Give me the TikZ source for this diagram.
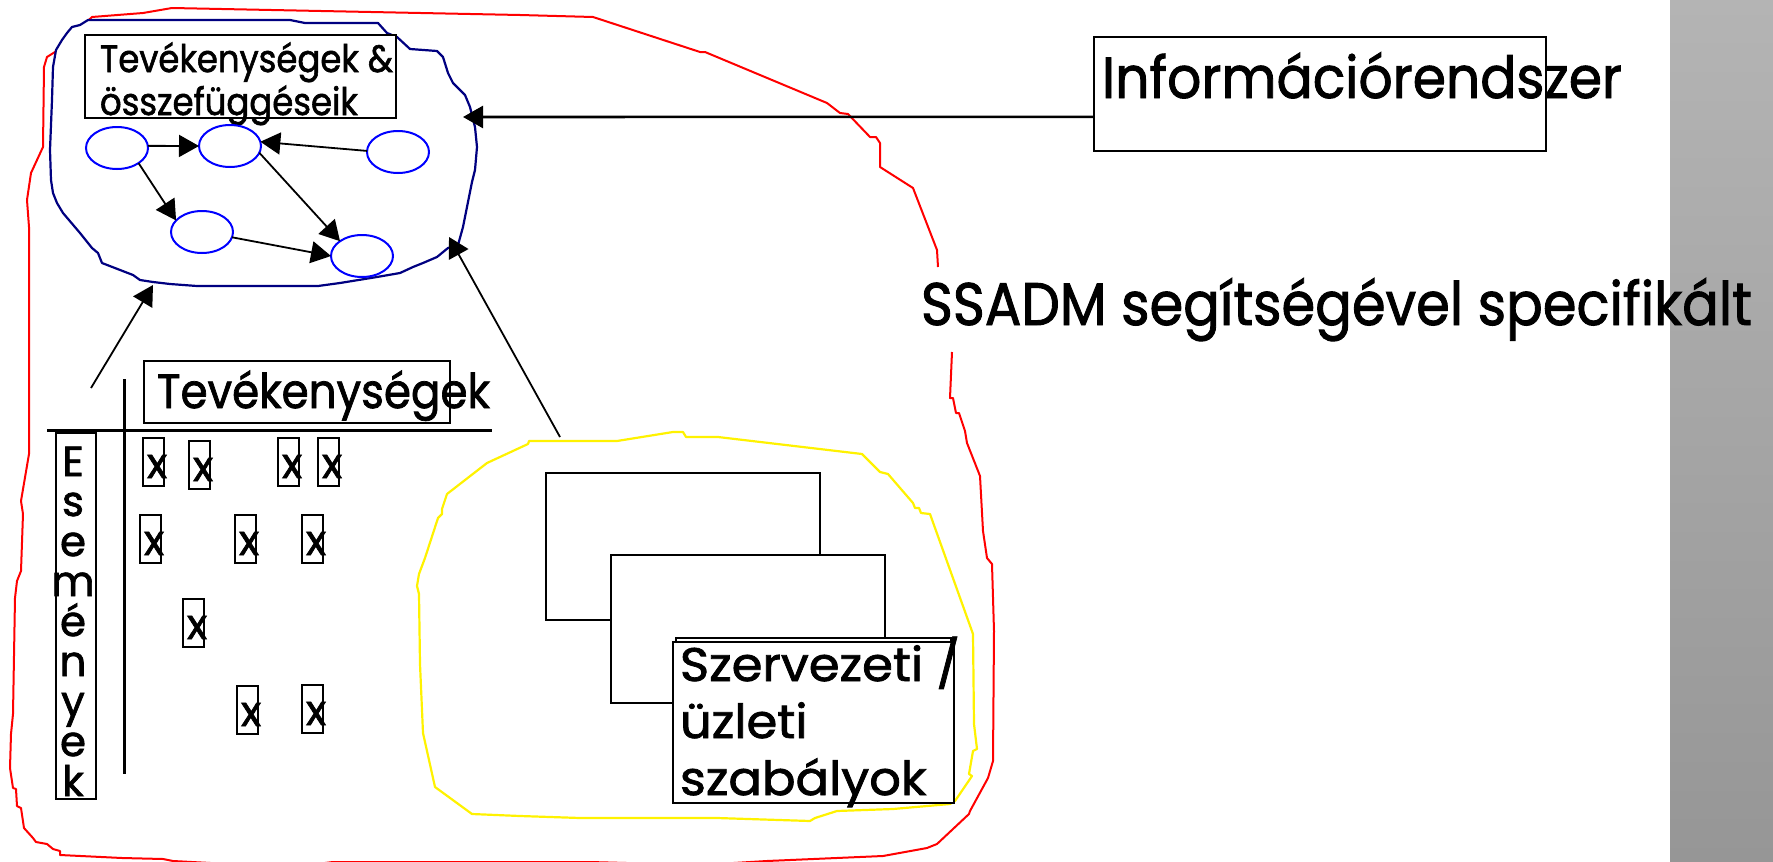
\documentclass[tikz,border=0pt]{standalone}
\usepackage{graphicx}
\usepackage{fontspec}
\setmainfont{Poppins}[FakeBold=1.6]
\usetikzlibrary{arrows.meta,shapes.geometric,fit,calc}
\definecolor{navyb}{RGB}{0,0,128}
\definecolor{grtop}{RGB}{180,180,180}
\definecolor{grbot}{RGB}{150,150,150}
\newcommand\fitw[2]{\resizebox{#1}{\height}{#2}}
\newcommand\vlinesL[2]{\vtop{\baselineskip=#1\lineskiplimit=-1000pt\lineskip=0pt\halign{##\hfil\cr#2\crcr}}}
\newcommand\vlinesC[2]{\vtop{\baselineskip=#1\lineskiplimit=-1000pt\lineskip=0pt\halign{\hfil##\hfil\cr#2\crcr}}}
\begin{document}
\begin{tikzpicture}[x=0.5pt,y=-0.5pt,
  every node/.style={inner sep=0pt, outer sep=0pt},
  redl/.style={draw=red, line width=1pt, line join=round},
  blobl/.style={draw=navyb, line width=1.1pt, fill=white, line join=round},
  yel/.style={draw=yellow, line width=1.1pt, line join=round},
  ell/.style={ellipse, draw=blue, line width=1pt, fill=white, minimum width=31pt, minimum height=21pt},
  box/.style={draw=black, line width=0.9pt, fill=white},
  arr/.style={draw=black, line width=0.9pt, -{Triangle[length=10pt,width=11pt]}},
  tline/.style={draw=black, line width=1.5pt}]
\useasboundingbox (0,0) rectangle (1773,862);
\clip (0,0) rectangle (1773,862);
% gray bar
\shade[top color=grtop, bottom color=grbot] (1670,0) rectangle (1773,862);
% red outline (open at the SSADM label)
\draw[redl] (952,352) -- (950,398) -- (953,398) -- (956,413) -- (959,413) -- (965,431) -- (967,443) -- (980,476) -- (983,531) -- (987,558) -- (992,564) -- (994,631) -- (993,761) -- (988,778) -- (970,811) -- (969,814) -- (937,844) -- (927,848) -- (883,856) -- (767,861) -- (700,865) -- (590,862) -- (500,862) -- (333,862) -- (300,866) -- (267,866) -- (173,861) -- (163,859) -- (122,858) -- (60,855) -- (60,851) -- (53,849) -- (47,844) -- (36,842) -- (33,838) -- (24,828) -- (21,808) -- (17,806) -- (16,789) -- (13,788) -- (10,768) -- (11,734) -- (13,714) -- (15,598) -- (17,581) -- (21,571) -- (23,514) -- (21,501) -- (29,454) -- (29,431) -- (29,227) -- (27,200) -- (31,173) -- (43,147) -- (44,67) -- (47,57) -- (55,52) -- (92,17) -- (143,13) -- (172,8) -- (520,15) -- (593,17) -- (700,52) -- (705,52) -- (827,103) -- (840,113) -- (848,114) -- (870,137) -- (876,137) -- (880,143) -- (880,167) -- (913,188) -- (937,250) -- (938,267);
% blue blob
\draw[blobl] (88,20) -- (290,20) -- (305,23) -- (378,23) -- (387,33) -- (397,37) -- (410,49) -- (437,51) -- (443,57) -- (448,73) -- (453,83) -- (465,95) -- (470,107) -- (475,127) -- (477,147) -- (475,170) -- (472,182) -- (467,207) -- (463,227) -- (458,245) -- (448,248) -- (437,257) -- (423,263) -- (413,267) -- (400,273) -- (377,277) -- (340,283) -- (318,286) -- (197,286) -- (170,284) -- (153,282) -- (140,280) -- (133,275) -- (102,263) -- (98,253) -- (92,248) -- (80,233) -- (63,213) -- (57,203) -- (53,193) -- (51,180) -- (50,150) -- (52,100) -- (53,67) -- (56,50) -- (62,40) -- (67,33) -- (72,27) -- (80,25) -- cycle;
\coordinate (blobE) at (463,117);
\coordinate (blobSW) at (153,285);
\coordinate (blobSE) at (449,237);
\coordinate (tabA) at (91,388);
\coordinate (yelN) at (560,437);
% title box in blob
\node[box, fit={(85,35) (396,118)}] (tbox) {};
\node[anchor=base west, font=\fontsize{19}{21.5}\selectfont] (tboxtxt) at (100,72) {\fitw{146.5pt}{\vlinesL{21.5pt}{Tevékenységek \&\cr összefüggéseik}}};
% ellipses
\node[ell] (e1) at (117,148) {};
\node[ell] (e2) at (230,146) {};
\node[ell] (e3) at (398,152) {};
\node[ell] (e4) at (202,232) {};
\node[ell] (e5) at (362,256) {};
\draw[arr] (e1.4) -- (e2.180);
\draw[arr] (e3.178) -- (e2.8);
\draw[arr] (e1.-35) -- (e4.156);
\draw[arr] (e2.-13) -- (e5.146);
\draw[arr] (e4.-10) -- (e5.180);
% table
\draw[tline] (47,430) -- (492,430);
\draw[tline] (124,379) -- (124,774);
\node[box, fit={(144,361) (450,423)}] (thead) {};
\node[anchor=base west, font=\fontsize{24}{29}\selectfont] (theadtxt) at (157,408) {\fitw{166.5pt}{Tevékenységek}};
\node[box, fit={(56,433) (96,799)}] (evbox) {};
\node[anchor=base, font=\fontsize{21}{20}\selectfont] (evtxt) at (73,476) {\vlinesC{20pt}{E\cr s\cr e\cr m\cr é\cr n\cr y\cr e\cr k}};
\foreach \i/\bx/\by in {1/143/438, 2/189/441, 3/278/438, 4/318/438, 5/140/515, 6/235/515, 7/302/515, 8/183/599, 9/237/686, 10/302/685} {
  \node[box, fit={(\bx,\by) (\bx+21,\by+48)}] (xb\i) {};
  \node[anchor=base west, font=\fontsize{21}{22}\selectfont] (xm\i) at (\bx+4,\by+40) {x};
}
% yellow outline
\draw[yel] (528,444) -- (529,441) -- (617,441) -- (673,432) -- (683,432) -- (686,437) -- (718,437) -- (862,454) -- (880,472) -- (888,474) -- (913,503) -- (915,508) -- (919,508) -- (921,513) -- (930,514) -- (973,634) -- (974,724) -- (977,749) -- (973,751) -- (969,774) -- (972,776) -- (955,801) -- (950,804) -- (893,809) -- (837,811) -- (815,818) -- (810,821) -- (717,818) -- (580,818) -- (520,816) -- (472,814) -- (435,787) -- (423,733) -- (420,664) -- (419,594) -- (417,586) -- (419,574) -- (425,558) -- (438,518) -- (442,514) -- (442,509) -- (447,494) -- (487,463) -- cycle;
% stacked rectangles
\node[box, fit={(546,473) (820,620)}] (r1) {};
\node[box, fit={(611,555) (885,703)}] (r2) {};
\node[box, fit={(676,638) (951,800)}] (r3) {};
\node[box, fit={(673,642) (954,803)}] (rbox) {};
\node[anchor=base west, font=\fontsize{23.5}{28.5}\selectfont] (rtxt) at (680,681) {\fitw{140pt}{\vlinesL{28.5pt}{Szervezeti /\cr üzleti\cr szabályok}}};
% big arrows
\draw[arr] (tabA) -- (blobSW);
\draw[arr] (yelN) -- (blobSE);
\node[box, fit={(1094,37) (1546,151)}] (info) {};
\node[anchor=base west, font=\fontsize{29}{34}\selectfont] (infotxt) at (1102,98) {\fitw{260pt}{Információrendszer}};
\draw[arr, line width=1.3pt] ($(info.south west)!0.3!(info.north west)$) -- (blobE);
\node[anchor=base west, font=\fontsize{30}{36}\selectfont] (ssadm) at (921,325) {\fitw{415.5pt}{SSADM segítségével specifikált}};
\end{tikzpicture}
\end{document}
